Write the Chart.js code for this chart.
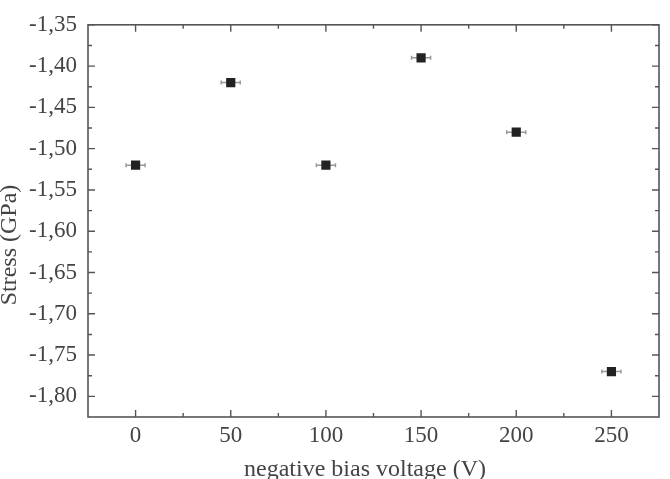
<!DOCTYPE html>
<html>
<head>
<meta charset="utf-8">
<script src="https://cdn.jsdelivr.net/npm/chart.js@4/dist/chart.umd.min.js"></script>
<style>
html,body{margin:0;padding:0;background:#fff;}
#wrap{width:670px;height:479px;position:relative;}
</style>
</head>
<body>
<div id="wrap"><canvas id="c" width="670" height="479"></canvas></div>
<script>
const biasVoltage = [0, 50, 100, 150, 200, 250];
const stress = [-1.52, -1.42, -1.52, -1.39, -1.48, -1.77];
const xError = [5, 5, 5, 5, 5, 5];
const yTickValues = [-1.80, -1.75, -1.70, -1.65, -1.60, -1.55, -1.50, -1.45, -1.40, -1.35];
const xTickValues = [0, 50, 100, 150, 200, 250];
const xTitle = 'negative bias voltage (V)';
const yTitle = 'Stress (GPa)';

const AXIS = '#555';
const TEXT = '#444';

const errorBars = {
  id: 'errorBars',
  beforeDatasetsDraw(chart) {
    const ctx = chart.ctx, xs = chart.scales.x, ys = chart.scales.y;
    ctx.save();
    ctx.strokeStyle = '#999';
    ctx.lineWidth = 1.5;
    biasVoltage.forEach((v, i) => {
      const y = ys.getPixelForValue(stress[i]);
      const x1 = xs.getPixelForValue(v - xError[i]);
      const x2 = xs.getPixelForValue(v + xError[i]);
      ctx.beginPath();
      ctx.moveTo(x1, y); ctx.lineTo(x2, y);
      ctx.moveTo(x1, y - 2); ctx.lineTo(x1, y + 2);
      ctx.moveTo(x2, y - 2); ctx.lineTo(x2, y + 2);
      ctx.stroke();
    });
    ctx.restore();
  }
};

const frameTicks = {
  id: 'frameTicks',
  afterDraw(chart) {
    const ctx = chart.ctx, a = chart.chartArea, xs = chart.scales.x, ys = chart.scales.y;
    ctx.save();
    ctx.strokeStyle = AXIS;
    ctx.lineWidth = 1.6;
    ctx.strokeRect(a.left, a.top, a.right - a.left, a.bottom - a.top);
    ctx.lineWidth = 1.4;
    const major = 7, minor = 4;
    ctx.beginPath();
    xTickValues.forEach((v, i) => {
      const x = xs.getPixelForValue(v);
      ctx.moveTo(x, a.bottom); ctx.lineTo(x, a.bottom - major);
      ctx.moveTo(x, a.top); ctx.lineTo(x, a.top + major);
      if (i < xTickValues.length - 1) {
        const xm = xs.getPixelForValue((v + xTickValues[i + 1]) / 2);
        ctx.moveTo(xm, a.bottom); ctx.lineTo(xm, a.bottom - minor);
        ctx.moveTo(xm, a.top); ctx.lineTo(xm, a.top + minor);
      }
    });
    yTickValues.forEach((v, i) => {
      const y = ys.getPixelForValue(v);
      ctx.moveTo(a.left, y); ctx.lineTo(a.left + major, y);
      ctx.moveTo(a.right, y); ctx.lineTo(a.right - major, y);
      if (i < yTickValues.length - 1) {
        const ym = ys.getPixelForValue((v + yTickValues[i + 1]) / 2);
        ctx.moveTo(a.left, ym); ctx.lineTo(a.left + minor, ym);
        ctx.moveTo(a.right, ym); ctx.lineTo(a.right - minor, ym);
      }
    });
    ctx.stroke();

    // axis titles
    ctx.fillStyle = TEXT;
    ctx.font = '24px "Liberation Serif"';
    ctx.textAlign = 'center';
    ctx.textBaseline = 'alphabetic';
    ctx.fillText(xTitle, 365, 476);
    ctx.translate(16, 245);
    ctx.rotate(-Math.PI / 2);
    ctx.fillText(yTitle, 0, 0);
    ctx.restore();
  }
};

new Chart(document.getElementById('c'), {
  type: 'scatter',
  data: {
    datasets: [{
      data: biasVoltage.map((v, i) => ({ x: v, y: stress[i] })),
      pointStyle: 'rect',
      radius: 6.5,
      backgroundColor: '#222',
      borderColor: '#222',
      borderWidth: 0
    }]
  },
  options: {
    responsive: false,
    animation: false,
    devicePixelRatio: 1,
    layout: { padding: { top: 17, right: 11, left: 0, bottom: 0 } },
    plugins: { legend: { display: false }, tooltip: { enabled: false } },
    scales: {
      x: {
        type: 'linear',
        min: -25, max: 275,
        afterBuildTicks(s) { s.ticks = xTickValues.map(v => ({ value: v })); },
        afterFit(s) { s.height = 62; },
        grid: { display: false, drawTicks: false },
        border: { display: false },
        ticks: {
          padding: 5,
          color: TEXT,
          font: { family: 'Liberation Serif', size: 23 },
          callback: v => String(v)
        },
        title: { display: false }
      },
      y: {
        type: 'linear',
        min: -1.825, max: -1.35,
        afterBuildTicks(s) { s.ticks = yTickValues.map(v => ({ value: v })); },
        afterFit(s) { s.width = 88; },
        grid: { display: false, drawTicks: false },
        border: { display: false },
        ticks: {
          padding: 11,
          color: TEXT,
          font: { family: 'Liberation Serif', size: 23 },
          callback: v => v.toFixed(2).replace('.', ',')
        },
        title: { display: false }
      }
    }
  },
  plugins: [errorBars, frameTicks]
});
</script>
</body>
</html>
